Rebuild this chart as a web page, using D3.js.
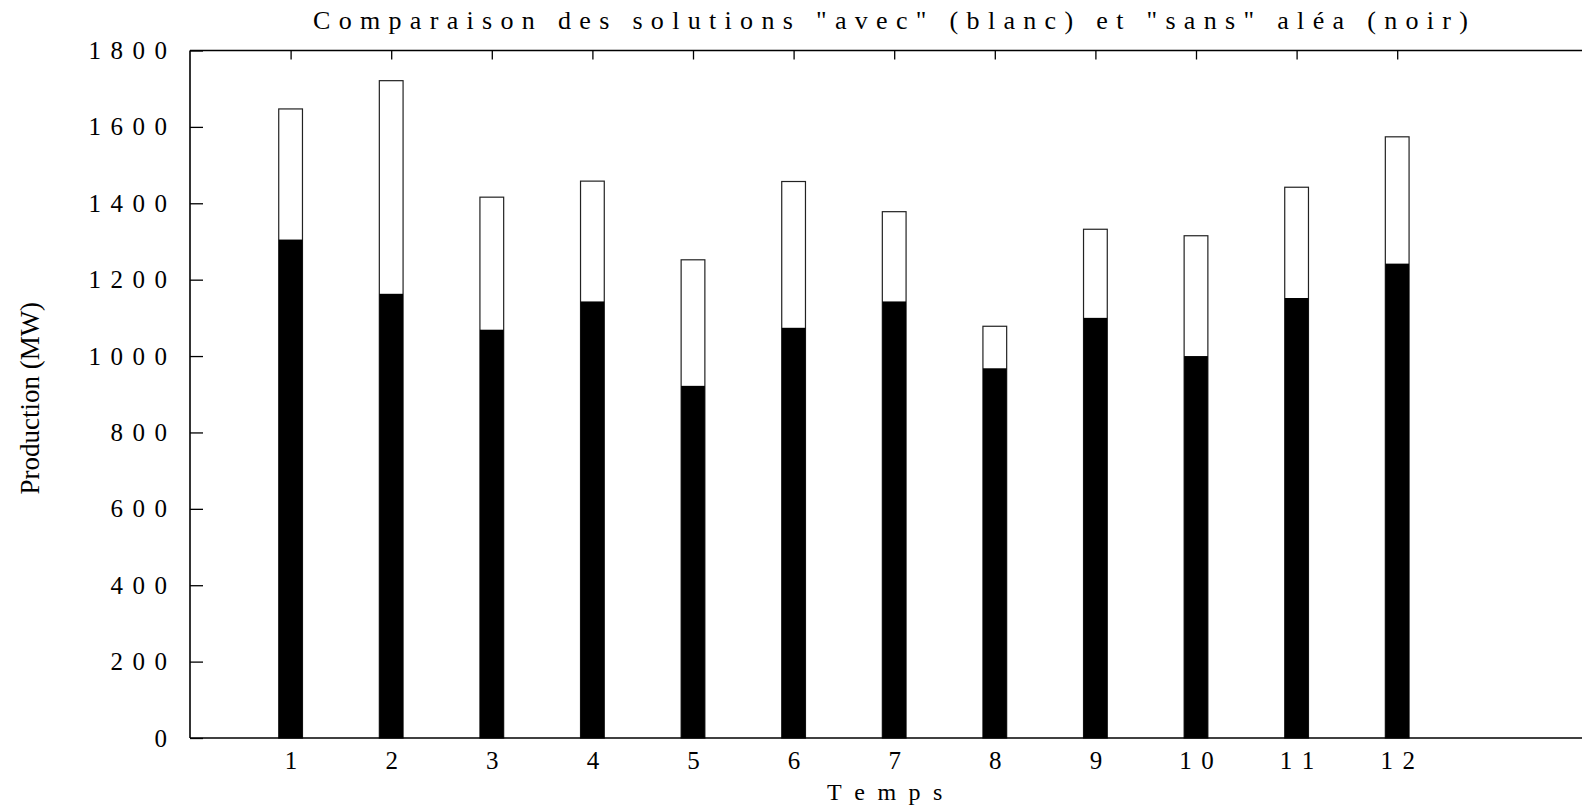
<!DOCTYPE html>
<html>
<head>
<meta charset="utf-8">
<script src="https://cdn.jsdelivr.net/npm/d3@7"></script>
<style>
  html, body { margin: 0; padding: 0; background: #fff; }
  svg { display: block; }
  text { font-family: "Liberation Serif", "Times New Roman", serif; fill: #000; font-kerning: none; }
</style>
</head>
<body>
<svg id="chart" width="1582" height="808"></svg>
<script>
// Production per time step: with uncertainty ("avec", white) and without ("sans", black)
const periods = [1, 2, 3, 4, 5, 6, 7, 8, 9, 10, 11, 12];
const avecAlea = [1647, 1721, 1416, 1458, 1252, 1457, 1378, 1078, 1332, 1315, 1442, 1574];
const sansAlea = [1305, 1163, 1069, 1143, 922, 1074, 1143, 968, 1100, 1000, 1152, 1242];
const yTickValues = [0, 200, 400, 600, 800, 1000, 1200, 1400, 1600, 1800];

const titleText = 'Comparaison des solutions "avec" (blanc) et "sans" aléa (noir)';
const xLabel = "Temps";
const yLabel = "Production (MW)";

const svg = d3.select("#chart");
const W = 1582;
const plotLeft = 190, plotTop = 50.5, plotBottom = 738;
const unit = 100.6;

const x = d3.scaleLinear().domain([0, 14]).range([plotLeft, plotLeft + 14 * unit]);
const y = d3.scaleLinear().domain([0, 1800]).range([plotBottom, plotTop]);
const barW = 0.236;
const digitSpacing = 9.5;
const tickFont = 25;

// Title
svg.append("text")
  .attr("x", 890.5).attr("y", 29)
  .attr("text-anchor", "middle")
  .attr("font-size", 26)
  .attr("textLength", 1155)
  .attr("lengthAdjust", "spacing")
  .text(titleText);

// Y axis (ticks pointing inward)
const yAxis = svg.append("g")
  .attr("transform", `translate(${plotLeft},0)`)
  .call(d3.axisLeft(y).tickValues(yTickValues).tickSizeInner(-13).tickSizeOuter(0)
    .tickPadding(23).tickFormat(d3.format("d")));
yAxis.select(".domain").remove();
yAxis.selectAll(".tick line").attr("stroke", "#000").attr("stroke-width", 1.3);
yAxis.selectAll(".tick text")
  .attr("font-size", tickFont)
  .attr("font-family", '"Liberation Serif", "Times New Roman", serif')
  .style("letter-spacing", digitSpacing + "px")
  .style("font-kerning", "none")
  .attr("dx", digitSpacing);

// Top mirror ticks
const topAxis = svg.append("g")
  .attr("transform", `translate(0,${plotTop})`)
  .call(d3.axisTop(x).tickValues(periods).tickSizeInner(-9).tickSizeOuter(0).tickFormat(""));
topAxis.select(".domain").remove();
topAxis.selectAll(".tick line").attr("stroke", "#000").attr("stroke-width", 1.3);

// Bottom axis
const xAxis = svg.append("g")
  .attr("transform", `translate(0,${plotBottom})`)
  .call(d3.axisBottom(x).tickValues(periods).tickSizeInner(-9).tickSizeOuter(0)
    .tickPadding(13).tickFormat(d3.format("d")));
xAxis.select(".domain").remove();
xAxis.selectAll(".tick line").attr("stroke", "#000").attr("stroke-width", 1.3);
xAxis.selectAll(".tick text")
  .attr("font-size", tickFont)
  .attr("font-family", '"Liberation Serif", "Times New Roman", serif')
  .style("letter-spacing", digitSpacing + "px")
  .style("font-kerning", "none")
  .attr("dx", digitSpacing / 2);

// Bars: white "avec" bars with black "sans" bars drawn over them
const bars = svg.append("g");
bars.selectAll("rect.avec")
  .data(periods)
  .join("rect")
  .attr("class", "avec")
  .attr("x", (d) => x(d - barW / 2))
  .attr("width", (d) => x(d + barW / 2) - x(d - barW / 2))
  .attr("y", (d, i) => y(avecAlea[i]))
  .attr("height", (d, i) => y(0) - y(avecAlea[i]))
  .attr("fill", "#fff")
  .attr("stroke", "#222")
  .attr("stroke-width", 1.2);

bars.selectAll("rect.sans")
  .data(periods)
  .join("rect")
  .attr("class", "sans")
  .attr("x", (d) => x(d - barW / 2))
  .attr("width", (d) => x(d + barW / 2) - x(d - barW / 2))
  .attr("y", (d, i) => y(sansAlea[i]))
  .attr("height", (d, i) => y(0) - y(sansAlea[i]))
  .attr("fill", "#000");

// Frame: left axis, top border, bottom axis
const frame = svg.append("g").attr("stroke", "#000").attr("stroke-width", 1.6).attr("fill", "none");
frame.append("line").attr("x1", plotLeft).attr("x2", plotLeft).attr("y1", plotTop).attr("y2", plotBottom);
frame.append("line").attr("x1", plotLeft).attr("x2", W).attr("y1", plotTop).attr("y2", plotTop);
frame.append("line").attr("x1", plotLeft).attr("x2", W).attr("y1", plotBottom).attr("y2", plotBottom);

// Axis titles
svg.append("text")
  .attr("x", 885 + 6).attr("y", 800)
  .attr("text-anchor", "middle")
  .attr("font-size", 24)
  .style("letter-spacing", "12.5px")
  .text(xLabel);

svg.append("text")
  .attr("transform", `translate(39,${(plotTop + plotBottom) / 2 + 4}) rotate(-90)`)
  .attr("text-anchor", "middle")
  .attr("font-size", 27)
  .text(yLabel);
</script>
</body>
</html>
